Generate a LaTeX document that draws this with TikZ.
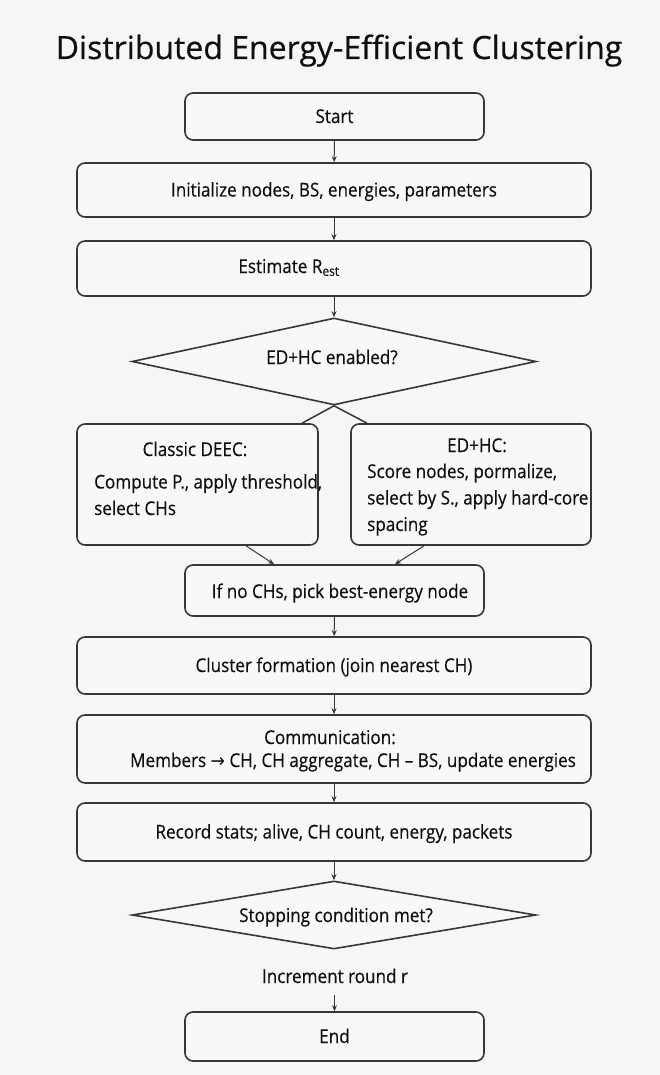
\documentclass[tikz,border=0pt]{standalone}
\usepackage{fontspec}
\setmainfont{Open Sans}[FakeStretch=0.9,FakeBold=0.35]
\newfontfamily\titlefont{Open Sans}[FakeBold=0.5]
\newfontfamily\symfont{DejaVu Sans}[FakeStretch=0.9]
\usetikzlibrary{shapes.geometric,arrows.meta}
\definecolor{bg}{RGB}{246,246,246}
\definecolor{boxfill}{RGB}{248,248,248}
\definecolor{edge}{RGB}{55,55,55}
\definecolor{ink}{RGB}{15,15,15}
\tikzset{
  box/.style={draw=edge, line width=1.6pt, rounded corners=8pt, fill=boxfill,
    inner sep=0pt, text=ink, font=\fontsize{19}{24}\selectfont,
    text height=16pt, text depth=3pt},
  decision/.style={draw=edge, line width=1.6pt, diamond, fill=boxfill,
    inner sep=0pt, text=ink, font=\fontsize{19}{24}\selectfont},
  txt/.style={text=ink, inner sep=0pt, font=\fontsize{19}{26.5}\selectfont},
  arr/.style={draw=edge, line width=1pt, -{Stealth[length=6pt,width=5pt]}},
  ln/.style={draw=edge, line width=1.5pt},
}
\begin{document}
\begin{tikzpicture}[x=1pt,y=-1pt]
\fill[bg] (0,0) rectangle (660,1075);
\useasboundingbox (0,0) rectangle (660,1075);

\node[txt, anchor=base, font=\titlefont\fontsize{32}{38}\selectfont] (title) at (339,59) {Distributed Energy-Efficient Clustering};

\node[box, minimum width=299pt, minimum height=47pt] (start) at (334.5,116.5) {Start};
\node[box, minimum width=514pt, minimum height=54pt] (init) at (334,190) {Initialize nodes, BS, energies, parameters};
\node[box, minimum width=514pt, minimum height=55pt] (est) at (334,268.5) {};
\node[txt, anchor=base] (estT) at (289,273) {Estimate R\textsubscript{est}};

\node[decision, minimum width=404pt, minimum height=87pt] (d1) at (334,361.5) {};
\node[txt, anchor=base] (d1T) at (332,364) {ED+HC enabled?};

\node[box, minimum width=241pt, minimum height=121pt] (classic) at (197.5,484.5) {};
\node[txt, anchor=base] (classicH) at (195,456) {Classic DEEC:};
\node[txt, anchor=base west, align=left] (classicT) at (94,515) {Compute P., apply threshold,\\select CHs};

\node[box, minimum width=240pt, minimum height=121pt] (edhc) at (471,484.5) {};
\node[txt, anchor=base] (edhcH) at (477,452) {ED+HC:};
\node[txt, anchor=base west, align=left] (edhcT) at (367,531) {Score nodes, pormalize,\\select by S., apply hard-core\\spacing};

\node[box, minimum width=299pt, minimum height=51pt] (merge) at (334.5,590.5) {};
\node[txt, anchor=base] (mergeT) at (340,598) {If no CHs, pick best-energy node};

\node[box, minimum width=514pt, minimum height=57pt] (cluster) at (334,665.5) {Cluster formation (join nearest CH)};
\node[box, minimum width=514pt, minimum height=68pt] (comm) at (334,749) {};
\node[txt, anchor=base] (commH) at (330,744) {Communication:};
\node[txt, anchor=base] (commT) at (353,767) {Members {\symfont →} CH, CH aggregate, CH – BS, update energies};

\node[box, minimum width=514pt, minimum height=58pt] (record) at (334,832) {Record stats; alive, CH count, energy, packets};

\node[decision, minimum width=404pt, minimum height=68pt] (d2) at (334,915) {};
\node[txt, anchor=base] (d2T) at (336,922) {Stopping condition met?};

\node[txt, anchor=base] (inc) at (335,983) {Increment round r};
\node[box, minimum width=299pt, minimum height=49pt] (end) at (334.5,1036.5) {End};
\coordinate (incB) at (334.5,995);

\draw[arr] (start) -- (init);
\draw[arr] (init) -- (est);
\draw[arr] (est) -- (d1);
\draw[ln] (d1.south) -- (classic.north -| 302,0);
\draw[ln] (d1.south) -- (edhc.north -| 367,0);
\draw[arr] (classic.south -| 246,0) -- (merge.north -| 274,0);
\draw[arr] (edhc.south -| 424,0) -- (merge.north -| 395,0);
\draw[arr] (merge) -- (cluster);
\draw[arr] (cluster) -- (comm);
\draw[arr] (comm) -- (record);
\draw[arr] (record) -- (d2);
\draw[arr] (incB) -- (end);
\end{tikzpicture}
\end{document}
